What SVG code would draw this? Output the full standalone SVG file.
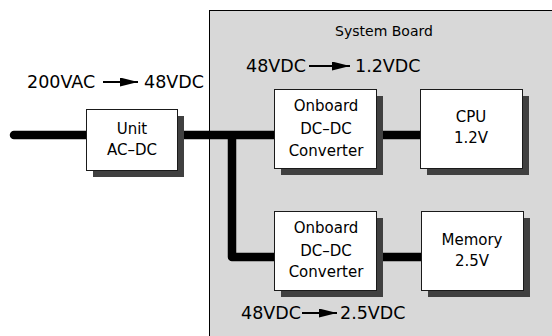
<svg xmlns="http://www.w3.org/2000/svg" width="552" height="336" viewBox="0 0 552 336">
  <style>
    text { font-family: "DejaVu Sans", "Liberation Sans", sans-serif; fill: #000; text-anchor: middle; }
    .lbl { font-size: 17.5px; text-anchor: start; }
    .box { fill: #fff; stroke: #1a1a1a; stroke-width: 1; }
    .shadow { fill: #404040; }
    .t { font-size: 15px; }
    .bus { fill: none; stroke: #000; stroke-width: 8.5; stroke-linecap: butt; stroke-linejoin: round; }
    .arr { stroke: #000; stroke-width: 1.8; }
  </style>
  <defs>
    <marker id="head" viewBox="0 0 18 9" refX="18" refY="4.5" markerWidth="18" markerHeight="9" markerUnits="userSpaceOnUse" orient="auto">
      <path d="M0,0 L18,4.5 L0,9 Z" fill="#000"/>
    </marker>
  </defs>

  <!-- board outline -->
  <g id="system-board">
    <rect x="209.5" y="10.5" width="400" height="400" fill="#d8d8d8" stroke="#000" stroke-width="1"/>
    <text x="384" y="36" font-size="14">System Board</text>
  </g>

  <!-- power wiring -->
  <g id="connectors">
    <path class="bus" d="M14 135 H86" style="stroke-linecap:round"/>
    <path class="bus" d="M177 135 H274"/>
    <path class="bus" d="M232 135 V257 H274"/>
    <path class="bus" d="M376 135 H420"/>
    <path class="bus" d="M376 257 H421"/>
  </g>

  <g id="unit-acdc">
    <rect class="shadow" x="93" y="116" width="91" height="61"/>
    <rect class="box" x="86.5" y="109.5" width="91" height="61"/>
    <text class="t" x="132" y="134">Unit</text>
    <text class="t" x="132" y="155">AC–DC</text>
  </g>

  <g id="converter-1v2">
    <rect class="shadow" x="281" y="96" width="102" height="79"/>
    <rect class="box" x="274.5" y="89.5" width="102" height="79"/>
    <text class="t" x="326" y="111">Onboard</text>
    <text class="t" x="326" y="134">DC–DC</text>
    <text class="t" x="326" y="156">Converter</text>
  </g>

  <g id="cpu">
    <rect class="shadow" x="427" y="96" width="102" height="79"/>
    <rect class="box" x="420.5" y="89.5" width="102" height="79"/>
    <text class="t" x="471" y="122">CPU</text>
    <text class="t" x="471" y="143">1.2V</text>
  </g>

  <g id="converter-2v5">
    <rect class="shadow" x="281" y="218" width="102" height="79"/>
    <rect class="box" x="274.5" y="211.5" width="102" height="79"/>
    <text class="t" x="326" y="233">Onboard</text>
    <text class="t" x="326" y="256">DC–DC</text>
    <text class="t" x="326" y="277">Converter</text>
  </g>

  <g id="memory">
    <rect class="shadow" x="428" y="218" width="102" height="79"/>
    <rect class="box" x="421.5" y="211.5" width="102" height="79"/>
    <text class="t" x="472" y="245">Memory</text>
    <text class="t" x="472" y="266">2.5V</text>
  </g>

  <!-- conversion labels -->
  <g id="label-acdc">
    <text class="lbl" x="27" y="88">200VAC</text>
    <line class="arr" x1="103" y1="82" x2="138" y2="82" marker-end="url(#head)"/>
    <text class="lbl" x="144" y="88">48VDC</text>
  </g>
  <g id="label-1v2">
    <text class="lbl" x="246" y="72">48VDC</text>
    <line class="arr" x1="309" y1="66" x2="350" y2="66" marker-end="url(#head)"/>
    <text class="lbl" x="355" y="72">1.2VDC</text>
  </g>
  <g id="label-2v5">
    <text class="lbl" x="241" y="319">48VDC</text>
    <line class="arr" x1="302" y1="313" x2="337" y2="313" marker-end="url(#head)"/>
    <text class="lbl" x="340" y="319">2.5VDC</text>
  </g>
</svg>
